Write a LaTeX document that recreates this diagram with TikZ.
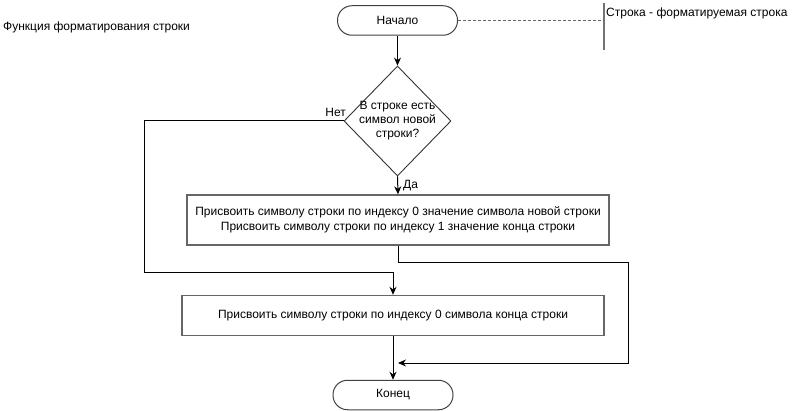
\documentclass[tikz,border=0pt]{standalone}
\usepackage{fontspec}
\setmainfont{Liberation Sans}
\usetikzlibrary{shapes.geometric,arrows.meta}
\begin{document}
\begin{tikzpicture}[x=1pt,y=-1pt,
  every node/.style={font=\fontsize{12}{15}\selectfont, inner sep=0pt},
  termbox/.style={draw=black!75, line width=1pt, rounded corners=14.5pt, minimum width=120pt, minimum height=29.5pt},
  procbox/.style={draw=black!60, line width=1.4pt, rectangle, align=center, minimum width=422pt},
  decbox/.style={draw=black!80, line width=0.9pt, diamond},
  conn/.style={draw=black, line width=1pt},
  arr/.style={conn, -{Stealth[length=8pt,width=7pt]}},
  lbl/.style={font=\fontsize{12}{14}\selectfont}
]
\useasboundingbox (0,0) rectangle (805,411);

% title
\node[lbl, anchor=west] (title) at (3,27) {Функция форматирования строки};

% start
\node[termbox] (start) at (397.5,20.5) {Начало};

% annotation
\coordinate (annTop) at (604,3);
\coordinate (annBot) at (604,50);
\coordinate (annMid) at (604,20.5);
\draw[black!55, line width=2pt] (annTop) -- (annBot);
\draw[black!60, line width=1pt, dash pattern=on 3pt off 2pt] (start.east) -- (annMid);
\node[lbl, anchor=west] (annText) at (606,13) {Строка - форматируемая строка};

% decision
\node[decbox, minimum width=107pt, minimum height=110pt,
  label={[align=center, font=\fontsize{12}{14}\selectfont]center:В строке есть\\символ новой\\строки?}] (dec) at (397.5,121) {};

% boxes
\node[procbox, minimum height=50pt] (box1) at (398,220)
  {Присвоить символу строки по индексу 0 значение символа новой строки\\Присвоить символу строки по индексу 1 значение конца строки};
\node[procbox, minimum height=40pt] (box2) at (393,315.5)
  {Присвоить символу строки по индексу 0 символа конца строки};

% end
\node[termbox] (end) at (393,395) {Конец};

% connectors
\draw[arr] (start.south) -- (dec.north);
\draw[arr] (dec.south) -- (box1.north);
\node[lbl, anchor=west] (yes) at (403,186) {Да};

\coordinate (n1) at (144,121);
\coordinate (n2) at (144,273);
\coordinate (n3) at (393,273);
\draw[arr] (dec.west) -- (n1) -- (n2) -- (n3) -- (box2.north);
\node[lbl, anchor=south east] (no) at (346,117) {Нет};

\coordinate (m1) at (398,263);
\coordinate (m2) at (628,263);
\coordinate (m3) at (628,363);
\coordinate (m4) at (398,363);
\draw[arr] (box1.south) -- (m1) -- (m2) -- (m3) -- (m4);

\draw[arr] (box2.south) -- (end.north);
\end{tikzpicture}
\end{document}
